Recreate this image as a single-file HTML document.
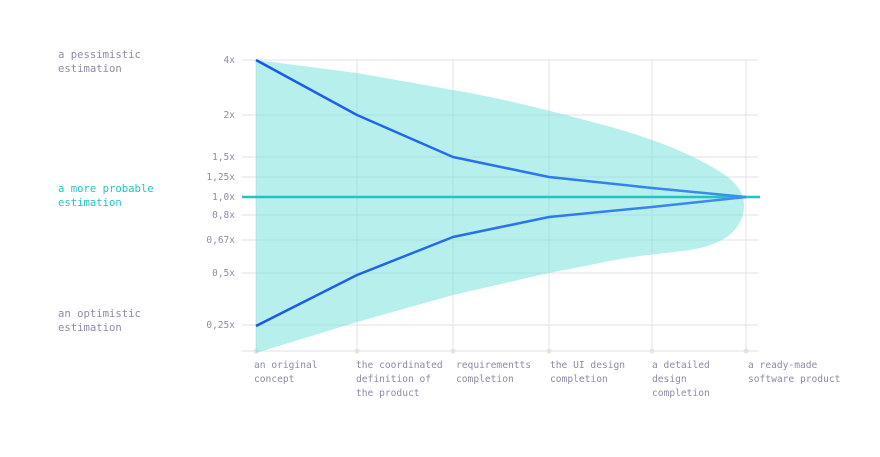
<!DOCTYPE html>
<html><head><style>
body{margin:0;background:#fff;}
svg text{font-family:"DejaVu Sans Mono","Liberation Mono",monospace;}
</style></head><body>
<svg width="880" height="452" viewBox="0 0 880 452" xmlns="http://www.w3.org/2000/svg">
<defs><linearGradient id="g" x1="0" x2="1" y1="0" y2="0"><stop offset="0" stop-color="#1558e8"/><stop offset="1" stop-color="#3f8ff0"/></linearGradient></defs>
<g stroke="#e6e6ee" stroke-width="1.2">
<line x1="242" y1="60" x2="758" y2="60"/>
<line x1="242" y1="115" x2="758" y2="115"/>
<line x1="242" y1="157" x2="758" y2="157"/>
<line x1="242" y1="177" x2="758" y2="177"/>
<line x1="242" y1="215" x2="758" y2="215"/>
<line x1="242" y1="240" x2="758" y2="240"/>
<line x1="242" y1="273" x2="758" y2="273"/>
<line x1="242" y1="325" x2="758" y2="325"/>
<line x1="242" y1="351" x2="758" y2="351"/>
<line x1="256" y1="60" x2="256" y2="351"/>
<line x1="357" y1="60" x2="357" y2="351"/>
<line x1="453" y1="60" x2="453" y2="351"/>
<line x1="549" y1="60" x2="549" y2="351"/>
<line x1="652" y1="60" x2="652" y2="351"/>
<line x1="746" y1="60" x2="746" y2="351"/>
</g>
<g fill="#e2e2ea">
<circle cx="256" cy="351" r="2.5"/><circle cx="357" cy="351" r="2.5"/><circle cx="453" cy="351" r="2.5"/><circle cx="549" cy="351" r="2.5"/><circle cx="652" cy="351" r="2.5"/><circle cx="746" cy="351" r="2.5"/>
</g>
<path d="M256,60 L357,73 L453,90 C500,98 540,108 600,124 C660,140 700,158 725,175 C746,190 746,205 742,218 C735,235 720,245 690,250 C650,255 625,257 600,263 L549,273 L453,295 L357,322 L256,353 Z" fill="#6fe0da" fill-opacity="0.5"/>
<line x1="242" y1="197" x2="760" y2="197" stroke="#1fc6c0" stroke-width="2.5"/>
<polyline points="256,60 357,115 453,157 549,177 652,188 746,197" fill="none" stroke="url(#g)" stroke-width="2.5" stroke-linejoin="round"/>
<polyline points="256,326 357,275 453,237 549,217 652,207 746,197" fill="none" stroke="url(#g)" stroke-width="2.5" stroke-linejoin="round"/>
<g font-size="9.5" fill="#8c8ca6" text-anchor="end">
<text x="235" y="63">4x</text>
<text x="235" y="118">2x</text>
<text x="235" y="160">1,5x</text>
<text x="235" y="180">1,25x</text>
<text x="235" y="200">1,0x</text>
<text x="235" y="218">0,8x</text>
<text x="235" y="243">0,67x</text>
<text x="235" y="276">0,5x</text>
<text x="235" y="328">0,25x</text>
</g>
<g font-size="9.6" fill="#8c8ca6">
<text x="254" y="368">an original</text><text x="254" y="382">concept</text>
<text x="356" y="368">the coordinated</text><text x="356" y="382">definition of</text><text x="356" y="396">the product</text>
<text x="456" y="368">requirementts</text><text x="456" y="382">completion</text>
<text x="550" y="368">the UI design</text><text x="550" y="382">completion</text>
<text x="652" y="368">a detailed</text><text x="652" y="382">design</text><text x="652" y="396">completion</text>
<text x="748" y="368">a ready-made</text><text x="748" y="382">software product</text>
</g>
<g font-size="10.6">
<text x="58" y="58" fill="#8c8ca6">a pessimistic</text><text x="58" y="72" fill="#8c8ca6">estimation</text>
<text x="58" y="192" fill="#1fc6c0">a more probable</text><text x="58" y="206" fill="#1fc6c0">estimation</text>
<text x="58" y="317" fill="#8c8ca6">an optimistic</text><text x="58" y="331" fill="#8c8ca6">estimation</text>
</g>
</svg>
</body></html>
